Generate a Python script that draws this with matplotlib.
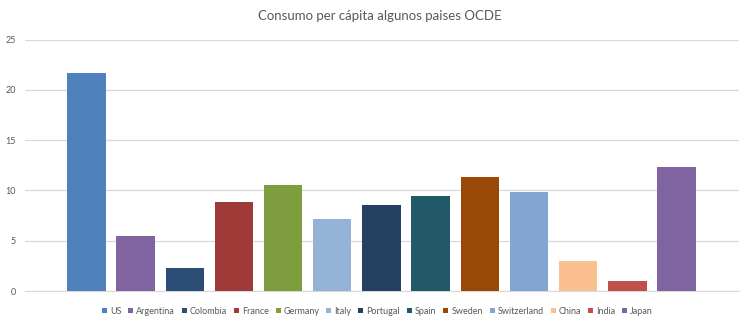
import matplotlib.pyplot as plt
from matplotlib.patches import Patch

countries = ["US", "Argentina", "Colombia", "France", "Germany", "Italy", "Portugal",
             "Spain", "Sweden", "Switzerland", "China", "India", "Japan"]
consumo = [21.7, 5.46, 2.26, 8.82, 10.5, 7.15, 8.54, 9.43, 11.35, 9.83, 2.98, 0.99, 12.34]
colores = ["#4F81BD", "#8064A2", "#2C4D75", "#9E3A38", "#7E9D3F", "#95B3D7", "#243F60",
           "#215968", "#984807", "#82A5D2", "#FAC090", "#C0504D", "#8064A2"]

plt.rcParams['font.family'] = ['Lato', 'DejaVu Sans']
gris = "#595959"

fig = plt.figure(figsize=(7.5, 3.27), dpi=100)
ax = fig.add_axes([0.0333, 0.110, 0.952, 0.769])

x = list(range(len(countries)))
ax.bar(x, consumo, width=0.78, color=colores, zorder=3)

ax.set_ylim(0, 25)
ax.set_yticks([0, 5, 10, 15, 20, 25])
ax.set_xlim(-1.25, 13.27)
ax.set_xticks([])
ax.grid(axis="y", color="#D9D9D9", linewidth=0.9, zorder=0)
for s in ["top", "right", "left"]:
    ax.spines[s].set_visible(False)
ax.spines["bottom"].set_color("#D9D9D9")
ax.tick_params(axis="y", length=0, labelsize=6.5, labelcolor=gris, pad=6.5)

fig.text(0.507, 0.95, "Consumo per cápita algunos paises OCDE", ha="center", va="center",
         fontsize=9.5, color=gris)

handles = [Patch(facecolor=c, edgecolor="none") for c in colores]
fig.legend(handles, countries, loc="center", bbox_to_anchor=(0.503, 0.048), ncol=len(countries),
           frameon=False, fontsize=6.5, labelcolor=gris, handlelength=0.55, handleheight=0.55,
           handletextpad=0.35, columnspacing=0.75)

fig.savefig("out.png", dpi=100)
